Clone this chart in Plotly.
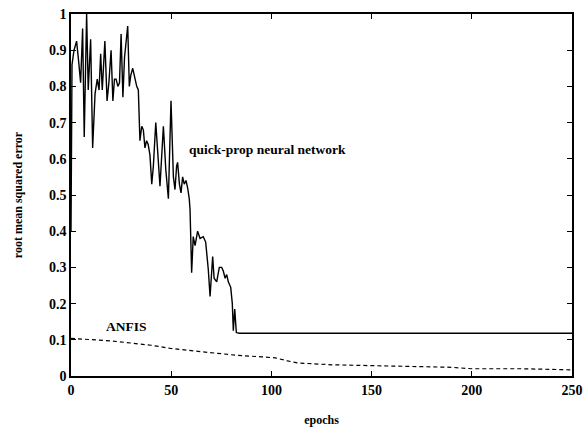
import plotly.graph_objects as go

# quick-prop neural network RMSE vs epochs
qp_epochs = [0, 0.5, 1.5, 2.8, 3.8, 4.8, 5.8, 6.6, 7.8, 8.6, 9.8, 10.8, 12, 13.1, 14, 14.8,
             15.6, 16.9, 18, 18.9, 20, 20.9, 21.7, 22.5, 23.4, 24.2, 25, 25.9, 26.7, 27.4,
             28.3, 29.1, 29.8, 30.8, 31.9, 32.8, 33.6, 34.4, 35.3, 36.1, 36.9, 37.7, 38.5,
             39.4, 40.3, 41.1, 42.3, 43.6, 44.4, 46.1, 47.3, 48.6, 49.9, 51.1, 51.9, 52.7,
             53.2, 54.1, 54.9, 55.7, 56.5, 57.4, 58.2, 59.0, 59.4, 60.2, 61.0, 61.9, 63.2,
             64.4, 66.0, 67.2, 68.5, 69.4, 70.7, 71.4, 72.7, 74.0, 75.2, 76.0, 76.9, 77.7,
             78.5, 79.7, 80.5, 81.0, 81.7, 82.5, 84, 150, 250]
qp_rmse = [0.40, 0.86, 0.90, 0.925, 0.87, 0.81, 0.96, 0.66, 1.0, 0.79, 0.93, 0.63, 0.78, 0.82,
           0.79, 0.89, 0.79, 0.925, 0.76, 0.81, 0.90, 0.76, 0.82, 0.82, 0.80, 0.81, 0.945,
           0.77, 0.88, 0.925, 0.967, 0.80, 0.83, 0.85, 0.82, 0.80, 0.79, 0.65, 0.69, 0.68,
           0.63, 0.65, 0.64, 0.61, 0.53, 0.58, 0.70, 0.59, 0.524, 0.69, 0.57, 0.49, 0.76,
           0.55, 0.515, 0.58, 0.59, 0.53, 0.506, 0.55, 0.53, 0.54, 0.52, 0.49, 0.46, 0.285,
           0.385, 0.36, 0.40, 0.38, 0.385, 0.37, 0.295, 0.22, 0.33, 0.27, 0.26, 0.30, 0.30,
           0.29, 0.27, 0.28, 0.26, 0.245, 0.20, 0.125, 0.185, 0.12, 0.118, 0.118, 0.118]

# ANFIS RMSE vs epochs
anfis_epochs = [0, 20, 40, 50, 60, 75, 83, 95, 102, 108, 113, 130, 150, 175, 190, 200, 225, 250]
anfis_rmse = [0.104, 0.097, 0.085, 0.076, 0.07, 0.062, 0.057, 0.053, 0.05, 0.042, 0.036,
              0.031, 0.028, 0.026, 0.024, 0.02, 0.02, 0.017]

x_ticks = [0, 50, 100, 150, 200, 250]
y_ticks = [0, 0.1, 0.2, 0.3, 0.4, 0.5, 0.6, 0.7, 0.8, 0.9, 1]
y_tick_labels = ["0", "0.1", "0.2", "0.3", "0.4", "0.5", "0.6", "0.7", "0.8", "0.9", "1"]

FONT = "Liberation Serif"

fig = go.Figure()
fig.add_trace(go.Scatter(x=qp_epochs, y=qp_rmse, mode="lines",
                         line=dict(color="black", width=1.4), showlegend=False))
fig.add_trace(go.Scatter(x=anfis_epochs, y=anfis_rmse, mode="lines",
                         line=dict(color="black", width=1.2, dash="4px,3px"), showlegend=False))

fig.add_annotation(x=98, y=0.625, text="<b>quick-prop neural network</b>", showarrow=False,
                   font=dict(family=FONT, size=13.5, color="black"))
fig.add_annotation(x=27.5, y=0.138, text="<b>ANFIS</b>", showarrow=False,
                   font=dict(family=FONT, size=13.5, color="black"))

axis_common = dict(showgrid=False, zeroline=False, showline=True, linecolor="black",
                   linewidth=1.5, mirror="ticks", ticks="inside", ticklen=5,
                   tickcolor="black", tickwidth=1, automargin=False,
                   ticklabeloverflow="allow",
                   tickfont=dict(family=FONT, size=14, color="black"))

fig.update_xaxes(range=[0, 250], tickvals=x_ticks,
                 ticktext=["<b>%d</b>" % v for v in x_ticks],
                 title=dict(text="<b>epochs</b>", font=dict(family=FONT, size=12, color="black"),
                            standoff=22),
                 **axis_common)
fig.update_yaxes(range=[0, 1], tickvals=y_ticks,
                 ticktext=["<b>%s</b>" % t for t in y_tick_labels],
                 title=dict(text="<b>root mean squared error</b>",
                            font=dict(family=FONT, size=12, color="black"), standoff=24),
                 **axis_common)

fig.update_layout(width=583, height=427, margin=dict(l=71, r=11, t=14, b=51),
                  paper_bgcolor="white", plot_bgcolor="white")

fig.write_html("out.html", config={"displayModeBar": False},
               post_script="document.body.style.margin='0';document.body.style.overflow='hidden';")
